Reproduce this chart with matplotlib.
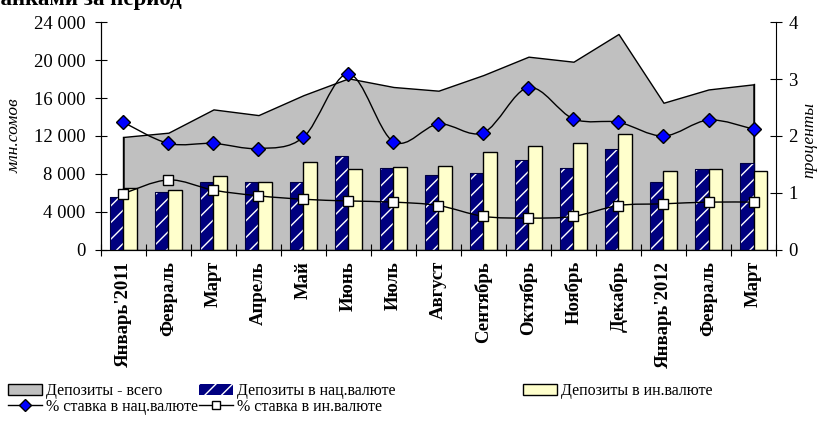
import numpy as np
import matplotlib.pyplot as plt
from matplotlib.path import Path
from matplotlib.patches import PathPatch, Patch
from matplotlib.lines import Line2D

plt.rcParams['font.family'] = ['Liberation Serif', 'DejaVu Serif']
plt.rcParams['hatch.linewidth'] = 1.0

months = ["Январь'2011", "Февраль", "Март", "Апрель", "Май", "Июнь", "Июль",
          "Август", "Сентябрь", "Октябрь", "Ноябрь", "Декабрь",
          "Январь'2012", "Февраль", "Март"]

# млн. сомов
dep_total = [11900, 12350, 14800, 14200, 16300, 18070, 17160, 16770,
             18420, 20350, 19820, 22740, 15500, 16900, 17440]
dep_nat = [5540, 6070, 7120, 7120, 7120, 9890, 8590, 7890,
           8070, 9470, 8590, 10600, 7120, 8530, 9120]
dep_for = [6560, 6320, 7820, 7120, 9300, 8530, 8700, 8880,
           10350, 10950, 11230, 12180, 8350, 8530, 8350]

# проценты
rate_nat = [2.24, 1.87, 1.87, 1.78, 1.98, 3.09, 1.90, 2.21,
            2.06, 2.85, 2.30, 2.24, 2.00, 2.28, 2.12]
rate_for = [0.99, 1.23, 1.05, 0.95, 0.89, 0.86, 0.84, 0.78,
            0.59, 0.56, 0.59, 0.78, 0.81, 0.84, 0.84]


def smooth_path(xs, ys):
    # Catmull-Rom through the points, drawn as cubic Bezier segments
    p = np.column_stack([xs, ys]).astype(float)
    ext = np.vstack([p[0], p, p[-1]])
    verts = [p[0]]
    codes = [Path.MOVETO]
    for i in range(len(p) - 1):
        p0, p1, p2, p3 = ext[i], ext[i + 1], ext[i + 2], ext[i + 3]
        verts += [p1 + (p2 - p0) / 6, p2 - (p3 - p1) / 6, p2]
        codes += [Path.CURVE4] * 3
    return Path(verts, codes)


x = np.arange(len(months))
w = 0.31

fig = plt.figure(figsize=(8.19, 4.24), dpi=100)
ax = fig.add_axes([0.1233, 0.4104, 0.8242, 0.5377])

ax.fill_between(x, dep_total, 0, facecolor='#c0c0c0', edgecolor='black',
                linewidth=1.0, zorder=1)
ax.plot([x[0], x[0]], [0, dep_total[0]], color='black', lw=1.0, zorder=1)
ax.plot([x[-1], x[-1]], [0, dep_total[-1]], color='black', lw=1.0, zorder=1)

ax.bar(x - w / 2, dep_nat, w, facecolor='#000080', edgecolor='white',
       hatch='//', linewidth=0, zorder=2)
ax.bar(x - w / 2, dep_nat, w, facecolor='none', edgecolor='#000040',
       linewidth=0.8, zorder=2)
ax.bar(x + w / 2, dep_for, w, facecolor='#ffffcc', edgecolor='black',
       linewidth=1.0, zorder=2)

ax.set_xlim(-0.5, len(months) - 0.5)
ax.set_ylim(0, 24000)
ax.set_yticks(np.arange(0, 24001, 4000))
ax.set_yticklabels([f"{v:,}".replace(",", " ") for v in range(0, 24001, 4000)],
                   fontsize=13.5)
ax.set_xticks(np.arange(-0.5, len(months), 1))
ax.set_xticklabels([])
ax.set_xticks(x, minor=True)
ax.set_xticklabels(months, minor=True, rotation=90, fontweight='bold',
                   fontsize=13.5)
ax.tick_params(axis='x', which='minor', length=0, pad=8)
ax.tick_params(axis='x', which='major', direction='inout', length=8)
ax.tick_params(axis='y', direction='inout', length=8, pad=7)
ax.spines['top'].set_visible(False)
ax.spines['right'].set_visible(False)
ax.patch.set_alpha(0)

ax2 = ax.twinx()
ax2.set_ylim(0, 4)
ax2.set_yticks([0, 1, 2, 3, 4])
ax2.set_yticklabels(['0', '1', '2', '3', '4'], fontsize=13.5)
ax2.tick_params(axis='y', direction='inout', length=8, pad=5)
ax2.spines['top'].set_visible(False)

ax2.add_patch(PathPatch(smooth_path(x, rate_nat), facecolor='none',
                        edgecolor='black', lw=1.0, zorder=3))
ax2.plot(x, rate_nat, ls='none', marker='D', markersize=7,
         markerfacecolor='#0000ff', markeredgecolor='black', zorder=4)
ax2.add_patch(PathPatch(smooth_path(x, rate_for), facecolor='none',
                        edgecolor='black', lw=1.0, zorder=3))
ax2.plot(x, rate_for, ls='none', marker='s', markersize=7,
         markerfacecolor='white', markeredgecolor='black', zorder=4)

fig.text(15 / 819, 1 - 136 / 424, 'млн.сомов', rotation=90, style='italic',
         fontsize=12.5, ha='center', va='center')
fig.text(809 / 819, 1 - 140 / 424, 'проценты', rotation=90, style='italic',
         fontsize=12.5, ha='center', va='center')

fig.text(-0.014, 1 - 10 / 424, 'банками за период', fontsize=16.5,
         fontweight='bold', ha='left', va='bottom')

h_total = Patch(facecolor='#c0c0c0', edgecolor='black', linewidth=1.0)
h_nat = Patch(facecolor='#000080', edgecolor='white', hatch='//', linewidth=0)
h_for = Patch(facecolor='#ffffcc', edgecolor='black', linewidth=1.0)
h_rnat = Line2D([], [], color='black', lw=1.0, marker='D', markersize=6,
                markerfacecolor='#0000ff', markeredgecolor='black')
h_rfor = Line2D([], [], color='black', lw=1.0, marker='s', markersize=6,
                markerfacecolor='white', markeredgecolor='black')

leg_kw = dict(frameon=False, fontsize=11.5, borderpad=0, borderaxespad=0,
              handlelength=2.1, handleheight=0.7, handletextpad=0.3,
              labelspacing=0.0, loc='upper left')
fig.legend([h_total, h_rnat], ['Депозиты - всего', '% ставка в нац.валюте'],
           bbox_to_anchor=(8 / 819, 1 - 383 / 424), **leg_kw)
fig.legend([h_nat, h_rfor], ['Депозиты в нац.валюте', '% ставка в ин.валюте'],
           bbox_to_anchor=(199 / 819, 1 - 383 / 424), **leg_kw)
fig.legend([h_for], ['Депозиты в ин.валюте'],
           bbox_to_anchor=(523 / 819, 1 - 383 / 424), **leg_kw)

fig.savefig('out.png', dpi=100)
